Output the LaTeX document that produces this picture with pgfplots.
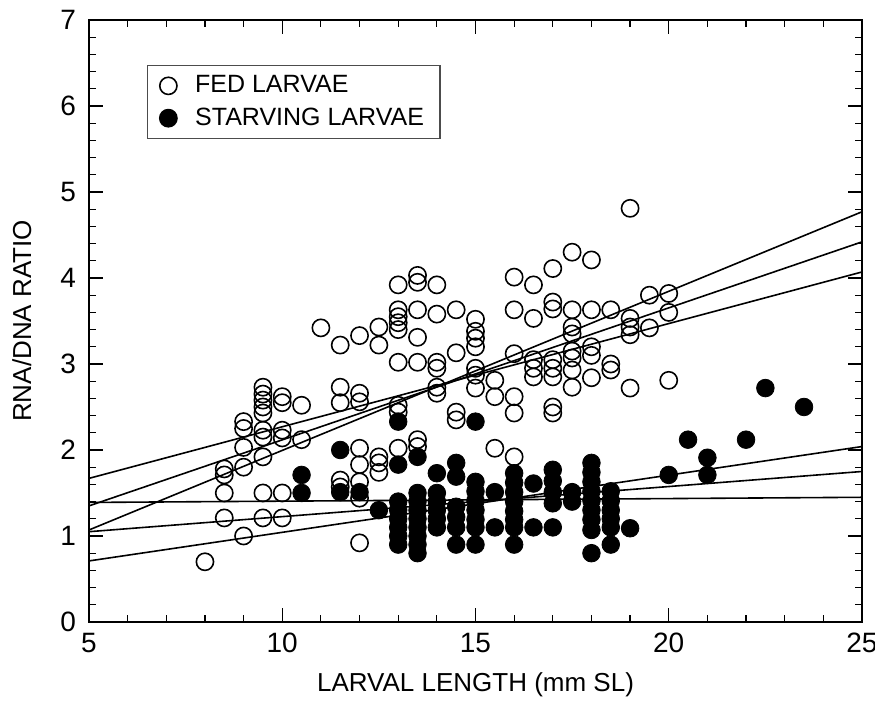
\documentclass[border=0pt]{standalone}
\usepackage{fontspec}
\setmainfont{Liberation Sans}
\usepackage{pgfplots}
\pgfplotsset{compat=1.18}

% fed larvae: open circles
\begin{filecontents*}[overwrite]{fed.dat}
x y
8 0.70
8.5 1.78
8.5 1.71
8.5 1.50
8.5 1.21
9 2.33
9 2.25
9 2.03
9 1.80
9 1.00
9.5 2.73
9.5 2.65
9.5 2.58
9.5 2.50
9.5 2.43
9.5 2.23
9.5 2.15
9.5 1.92
9.5 1.50
9.5 1.21
10 2.62
10 2.55
10 2.23
10 2.14
10 1.50
10 1.21
10.5 2.52
10.5 2.12
11 3.42
11.5 3.22
11.5 2.73
11.5 2.55
11.5 1.65
11.5 1.57
12 3.33
12 2.66
12 2.56
12 2.02
12 1.83
12 1.63
12 1.44
12 0.92
12.5 3.43
12.5 3.22
12.5 1.92
12.5 1.85
12.5 1.74
13 3.92
13 3.63
13 3.55
13 3.48
13 3.40
13 3.02
13 2.52
13 2.44
13 2.02
13.5 4.03
13.5 3.95
13.5 3.63
13.5 3.31
13.5 3.02
13.5 2.12
13.5 2.04
14 3.92
14 3.58
14 3.02
14 2.95
14 2.73
14 2.66
14.5 3.63
14.5 3.13
14.5 2.44
14.5 2.35
15 3.52
15 3.38
15 3.30
15 3.20
15 2.95
15 2.87
15 2.72
15.5 2.81
15.5 2.62
15.5 2.02
16 4.01
16 3.63
16 3.12
16 2.62
16 2.43
16 1.92
16.5 3.92
16.5 3.53
16.5 3.05
16.5 2.95
16.5 2.85
17 4.11
17 3.72
17 3.64
17 3.05
17 2.95
17 2.85
17 2.50
17 2.43
17.5 4.30
17.5 3.63
17.5 3.43
17.5 3.35
17.5 3.15
17.5 3.07
17.5 2.93
17.5 2.73
18 4.21
18 3.63
18 3.20
18 3.10
18 2.84
18.5 3.63
18.5 3.00
18.5 2.93
19 4.81
19 3.53
19 3.43
19 3.34
19 2.72
19.5 3.80
19.5 3.42
20 3.82
20 3.60
20 2.81
\end{filecontents*}

% starving larvae: filled circles
\begin{filecontents*}[overwrite]{starv.dat}
x y
10.5 1.71
10.5 1.50
11.5 2.00
11.5 1.51
12 1.51
12.5 1.30
13 2.33
13 1.83
13 1.40
13 1.30
13 1.20
13 1.10
13 1.00
13 0.90
13.5 1.92
13.5 1.50
13.5 1.40
13.5 1.30
13.5 1.20
13.5 1.10
13.5 1.00
13.5 0.90
13.5 0.80
14 1.73
14 1.50
14 1.40
14 1.30
14 1.20
14 1.10
14.5 1.85
14.5 1.69
14.5 1.34
14.5 1.22
14.5 1.10
14.5 0.90
15 2.33
15 1.63
15 1.52
15 1.41
15 1.30
15 1.19
15 1.10
15 0.90
15.5 1.51
15.5 1.10
16 1.73
16 1.62
16 1.51
16 1.40
16 1.29
16 1.19
16 1.10
16 0.90
16.5 1.61
16.5 1.10
17 1.77
17 1.64
17 1.51
17 1.38
17 1.10
17.5 1.51
17.5 1.40
18 1.85
18 1.74
18 1.63
18 1.52
18 1.41
18 1.30
18 1.19
18 1.07
18 0.80
18.5 1.52
18.5 1.41
18.5 1.30
18.5 1.20
18.5 1.10
18.5 0.90
19 1.09
20 1.71
20.5 2.12
21 1.91
21 1.71
22 2.12
22.5 2.72
23.5 2.50
\end{filecontents*}

\begin{document}
\begin{tikzpicture}
\useasboundingbox (-44.5pt,-47pt) rectangle (393pt,311pt);
\begin{axis}[
    at={(0pt,0pt)}, anchor=south west,
    scale only axis,
    width=386.5pt, height=301pt,
    xmin=5, xmax=25, ymin=0, ymax=7,
    xtick={5,10,15,20,25},
    ytick={0,1,...,7},
    minor x tick num=4,
    minor y tick num=4,
    tick align=inside,
    major tick length=7pt,
    minor tick length=3.5pt,
    tick style={black, line width=0.6pt},
    axis line style={line width=0.8pt},
    ticklabel style={font=\fontsize{14}{16}\selectfont},
    /pgf/number format/assume math mode=true,
    xticklabel style={yshift=-2pt},
    yticklabel style={xshift=-3pt},
    xlabel={LARVAL LENGTH (mm SL)},
    ylabel={RNA/DNA RATIO},
    label style={font=\fontsize{13}{15}\selectfont},
    xlabel style={at={(axis description cs:0.5,-0.105)}, anchor=center},
    ylabel style={at={(axis description cs:-0.087,0.5)}, anchor=center},
    legend style={at={(0.075,0.925)}, anchor=north west,
        draw=black!70, line width=0.6pt,
        font=\fontsize{12.5}{15}\selectfont,
        row sep=2pt, inner xsep=6pt, inner ysep=3pt,
        legend cell align=left},
    clip=false,
]
\addplot[only marks, mark=o, mark size=4.3pt, mark options={line width=0.8pt, black}] table {fed.dat};
\addlegendentry{\hspace{7pt}FED LARVAE}
\addplot[only marks, mark=*, mark size=4.4pt, mark options={black, fill=black}] table {starv.dat};
\addlegendentry{\hspace{7pt}STARVING LARVAE}
% fed regression with confidence lines
\addplot[black, line width=0.8pt, forget plot] coordinates {(5,1.07) (25,4.77)};
\addplot[black, line width=0.8pt, forget plot] coordinates {(5,1.35) (25,4.42)};
\addplot[black, line width=0.8pt, forget plot] coordinates {(5,1.67) (25,4.07)};
% starving regression with confidence lines
\addplot[black, line width=0.8pt, forget plot] coordinates {(5,0.71) (25,2.04)};
\addplot[black, line width=0.8pt, forget plot] coordinates {(5,1.05) (25,1.75)};
\addplot[black, line width=0.8pt, forget plot] coordinates {(5,1.39) (25,1.45)};
\end{axis}
\end{tikzpicture}
\end{document}
